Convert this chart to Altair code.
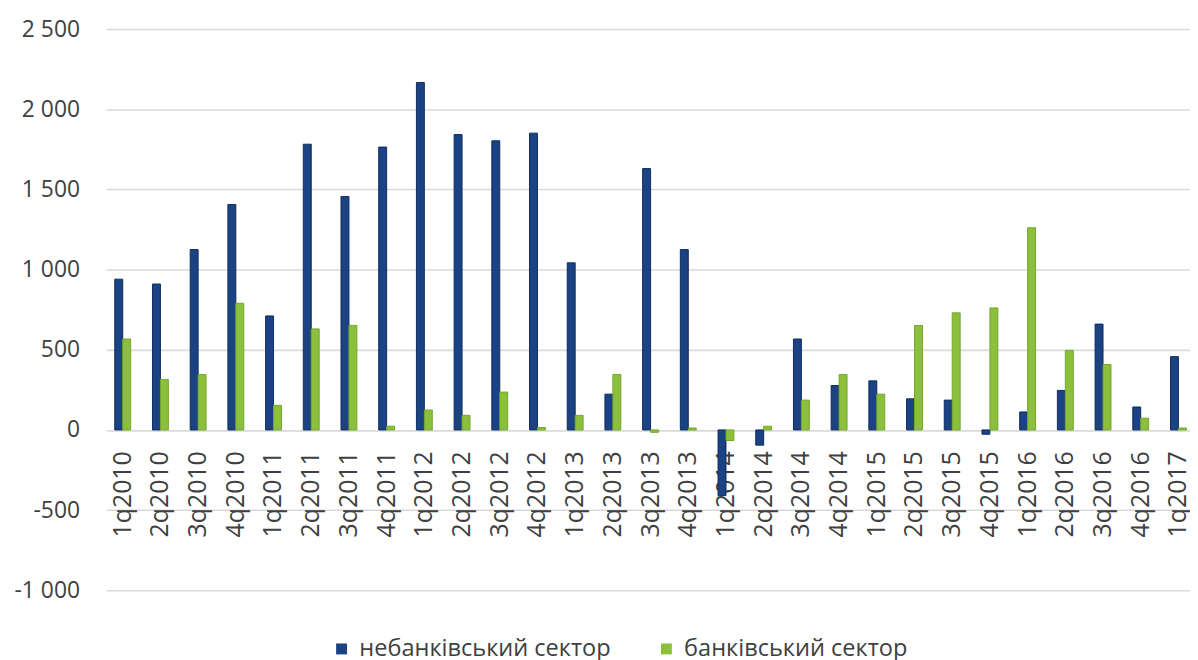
import altair as alt
import pandas as pd

quarters = [
    "1q2010", "2q2010", "3q2010", "4q2010",
    "1q2011", "2q2011", "3q2011", "4q2011",
    "1q2012", "2q2012", "3q2012", "4q2012",
    "1q2013", "2q2013", "3q2013", "4q2013",
    "1q2014", "2q2014", "3q2014", "4q2014",
    "1q2015", "2q2015", "3q2015", "4q2015",
    "1q2016", "2q2016", "3q2016", "4q2016",
    "1q2017",
]
nonbank = [940, 910, 1125, 1406, 711, 1782, 1456, 1764, 2167, 1842, 1803, 1851,
           1042, 223, 1630, 1125, -410, -95, 567, 277, 306, 194, 186, -27,
           112, 246, 660, 143, 457]
bank = [567, 315, 346, 790, 153, 630, 652, 23, 124, 91, 236, 15,
        91, 346, -15, 12, -66, 23, 186, 346, 223, 651, 730, 761,
        1261, 496, 408, 73, 12]
series_names = ["небанківський сектор", "банківський сектор"]
fill_colors = ["#1b4282", "#8cc03c"]
edge_colors = ["#0f2d5e", "#74a82c"]
y_ticks = [-1000, -500, 0, 500, 1000, 1500, 2000, 2500]

rows = []
for q, a, b in zip(quarters, nonbank, bank):
    rows.append({"q": q, "s": series_names[0], "v": a})
    rows.append({"q": q, "s": series_names[1], "v": b})
df = pd.DataFrame(rows)

W, H = 1091, 565
ymin, ymax = -1000, 2500
zero_offset = -H * (0 - ymin) / (ymax - ymin)
FONT = "Open Sans"
TXT = "#404040"

label_expr = "(datum.value < 0 ? '-' : '') + replace(format(abs(datum.value), ','), ',', ' ')"

chart = alt.Chart(df).mark_bar(strokeWidth=1).encode(
    x=alt.X(
        "q:N", sort=quarters,
        scale=alt.Scale(paddingInner=0.5785, paddingOuter=0.16, align=0.7),
        axis=alt.Axis(title=None, labelAngle=270, labelFontSize=25, labelColor=TXT,
                      labelFont=FONT, labelPadding=21, ticks=False, domain=False,
                      grid=False, offset=zero_offset, labelOverlap=False,
                      labelBound=False),
    ),
    xOffset=alt.XOffset("s:N", sort=series_names,
                        scale=alt.Scale(paddingInner=0, paddingOuter=0)),
    y=alt.Y(
        "v:Q",
        scale=alt.Scale(domain=[ymin, ymax], nice=False, zero=False),
        axis=alt.Axis(title=None, values=y_ticks, labelExpr=label_expr,
                      labelFontSize=23, labelColor=TXT, labelFont=FONT,
                      labelPadding=27, ticks=False, domain=False,
                      gridColor="#d9d9d9", gridWidth=1.6),
    ),
    color=alt.Color(
        "s:N", sort=series_names,
        scale=alt.Scale(domain=series_names, range=fill_colors),
        legend=alt.Legend(title=None, orient="none", legendX=225, legendY=612,
                          direction="horizontal", symbolType="square",
                          symbolSize=121, symbolStrokeWidth=0,
                          labelFontSize=23.7, labelColor=TXT, labelFont=FONT,
                          labelLimit=0, columnPadding=44, labelOffset=6,
                          padding=0),
    ),
    stroke=alt.Stroke(
        "s:N", sort=series_names,
        scale=alt.Scale(domain=series_names, range=edge_colors),
        legend=None,
    ),
).properties(
    width=W, height=H,
    padding={"left": 99, "top": 19, "right": 0, "bottom": 68},
    autosize=alt.AutoSizeParams(type="none"),
).configure_view(stroke=None)

chart.save("out.html", embed_options={"renderer": "svg", "actions": False})
